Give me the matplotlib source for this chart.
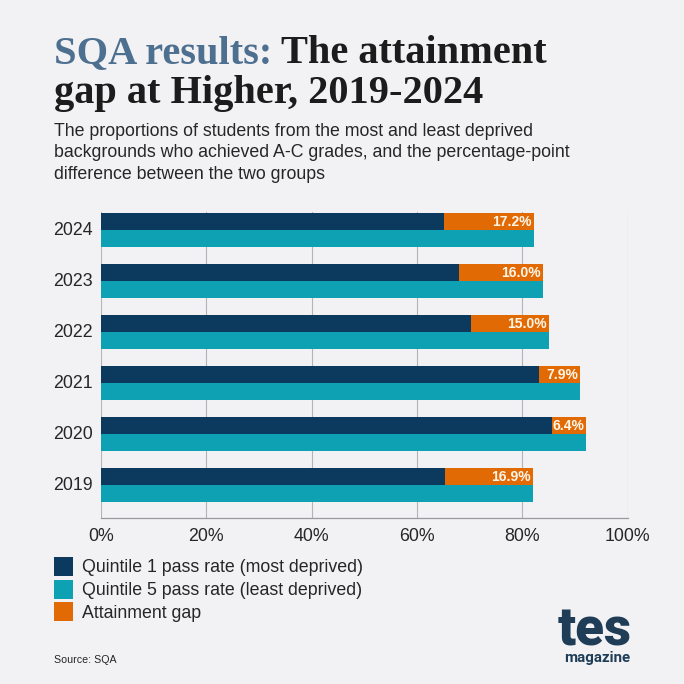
import matplotlib
matplotlib.use("Agg")
import matplotlib.pyplot as plt
import numpy as np

years = ["2024", "2023", "2022", "2021", "2020", "2019"]
q1 = [65.1, 68.0, 70.2, 83.2, 85.7, 65.3]
q5 = [82.2, 84.0, 85.1, 91.0, 92.2, 82.1]
gap = [17.2, 16.0, 15.0, 7.9, 6.4, 16.9]
gap_labels = ["17.2%", "16.0%", "15.0%", "7.9%", "6.4%", "16.9%"]
ticks = [0, 20, 40, 60, 80, 100]
tick_labels = ["0%", "20%", "40%", "60%", "80%", "100%"]
legend_labels = ["Quintile 1 pass rate (most deprived)",
                 "Quintile 5 pass rate (least deprived)",
                 "Attainment gap"]
subtitle_lines = ["The proportions of students from the most and least deprived",
                  "backgrounds who achieved A-C grades, and the percentage-point",
                  "difference between the two groups"]

BG = "#f2f2f4"; NAVY = "#0b3a5e"; TEAL = "#0ea0b3"; ORANGE = "#e26a05"; INK = "#262626"; GRID = "#b4b4b8"
W = H = 684
plt.rcParams["font.family"] = ["Liberation Sans", "DejaVu Sans"]
fig = plt.figure(figsize=(6.84, 6.84), dpi=100, facecolor=BG)
def fx(p): return p / W
def fy(p): return 1 - p / H

ax = fig.add_axes([fx(101), fy(518), (627.5 - 101) / W, 306 / H], facecolor=BG)
y = np.arange(len(years))
bar_h = 17.4 / 51
h1 = ax.barh(y - bar_h / 2, q1, height=bar_h, color=NAVY, zorder=3)
h3 = ax.barh(y - bar_h / 2, [a - b for a, b in zip(q5, q1)], left=q1, height=bar_h, color=ORANGE, zorder=3)
h2 = ax.barh(y + bar_h / 2, q5, height=bar_h, color=TEAL, zorder=3)
for yi, end, lab in zip(y, q5, gap_labels):
    ax.annotate(lab, (end, yi - bar_h / 2), xytext=(-1.6, -0.8), textcoords="offset points", ha="right", va="center",
                color="#fff6ea", fontsize=10, fontweight="bold", zorder=4)
ax.set_xlim(0, 100)
ax.set_ylim(5.647, -0.353)
ax.set_xticks(ticks, tick_labels)
ax.set_yticks(y - 0.035, years)
ax.tick_params(axis="both", length=0, labelsize=12.8, labelcolor=INK)
ax.tick_params(axis="x", pad=7)
ax.tick_params(axis="y", pad=6)
ax.grid(axis="x", color=GRID, lw=0.8, zorder=0)
for s in ["top", "right", "left"]:
    ax.spines[s].set_visible(False)
ax.spines["bottom"].set_color("#9a9a9e")
ax.spines["bottom"].set_linewidth(0.9)

leg = fig.legend([h1, h2, h3], legend_labels, loc="upper left", bbox_to_anchor=(fx(54), fy(557)),
                 bbox_transform=fig.transFigure, frameon=False, fontsize=12.8, borderpad=0, borderaxespad=0,
                 handlelength=1.07, handleheight=1.27, handletextpad=0.5, labelspacing=0.18)
for t in leg.get_texts():
    t.set_color(INK)

# Title
title_font = dict(family="Liberation Serif", fontweight="bold", fontsize=29.1, va="baseline")
t1 = fig.text(fx(54), fy(63), "SQA results:", color="#4e7090", **title_font)
fig.canvas.draw()
bb = t1.get_window_extent()
fig.text(fx(bb.x1 + 9), fy(63), "The attainment", color="#1c1c1c", **title_font)
fig.text(fx(54), fy(103), "gap at Higher, 2019-2024", color="#1c1c1c", **title_font)

for i, line in enumerate(subtitle_lines):
    fig.text(fx(54), fy(136 + 21.3 * i), line, color=INK, fontsize=12.82, va="baseline")

fig.text(fx(54), fy(663), "Source: SQA", color=INK, fontsize=7.7, va="baseline")

# Logo
fig.text(fx(595), fy(645), "tes", color="#1f3d57", family="Roboto", fontweight="black", fontsize=38, ha="center", va="baseline")
fig.text(fx(597), fy(662), "magazine", color="#1f3d57", family="Roboto", fontweight="bold", fontsize=10.9, ha="center", va="baseline")

fig.savefig("out.png", dpi=100, facecolor=BG)
